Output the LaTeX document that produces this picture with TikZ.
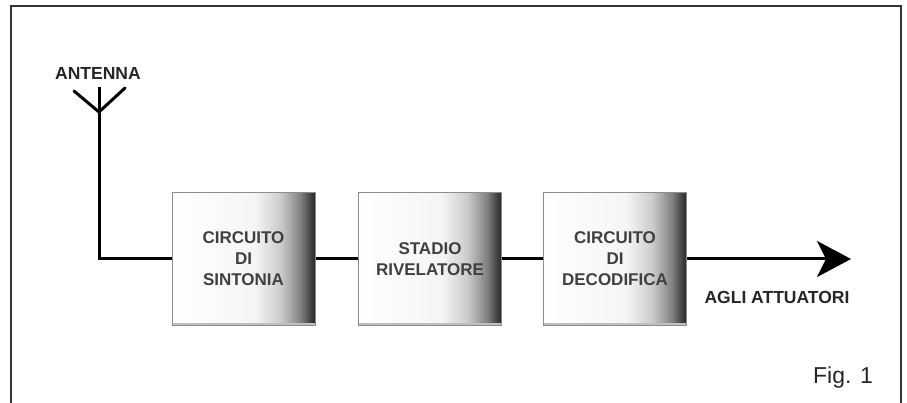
\documentclass[tikz,border=0pt]{standalone}
\usepackage{fontspec}
\setmainfont{Liberation Sans}
\usetikzlibrary{arrows.meta}

\pgfdeclarehorizontalshading{blockshade}{100bp}{color(0bp)=(white); color(25bp)=(white); color(54bp)=(white!96!black); color(63bp)=(black!20); color(70bp)=(black!50); color(75bp)=(black!85); color(100bp)=(black!85)}

\begin{document}
\begin{tikzpicture}[x=1pt,y=-1pt]

        \useasboundingbox (0,0) rectangle (907,403);
        \draw[line width=2pt, black!80] (10.5,403) -- (10.5,6) -- (901,6) -- (901,403);

        \begin{scope}[every node/.style={rectangle, draw=black!45, line width=1pt,
            minimum width=143pt, minimum height=132pt, shading=blockshade,
            align=center, text=black!75, font=\bfseries\fontsize{17}{21}\selectfont,
            path picture={\draw[black!25, line width=4pt]
              (path picture bounding box.south west) -- (path picture bounding box.south east);}}]
          \node (sint) at (243.5,259) {CIRCUITO\\DI\\SINTONIA};
          \node (riv)  at (430,259)   {STADIO\\RIVELATORE};
          \node (dec)  at (615,259)   {CIRCUITO\\DI\\DECODIFICA};
        \end{scope}

        \coordinate (stem) at (99,87);
        \coordinate (foot) at (99,112);
        \coordinate (armL) at (74,91);
        \coordinate (armR) at (125,88);
        \coordinate (out)  at (851,259);

        \begin{scope}[every node/.style={text=black!85, font=\bfseries\fontsize{17.5}{20}\selectfont}]
          \node (ant) at (98,73)  {ANTENNA};
          \node (att) at (777,297) {AGLI ATTUATORI};
        \end{scope}
        \node[text=black!85, font=\fontsize{23}{26}\selectfont] (fig) at (843,378) {Fig. 1};

        \begin{scope}[line width=3pt, black]
          \draw[line cap=round] (armL) -- (foot) -- (armR);
          \draw (stem) -- (foot);
          \draw (foot) |- (sint.west);
          \path (sint) edge (riv);
          \path (riv)  edge (dec);
          \draw[-{Stealth[length=34pt,width=36pt,inset=9pt]}] (dec.east) -- (out);
        \end{scope}

      \end{tikzpicture}
\end{document}
